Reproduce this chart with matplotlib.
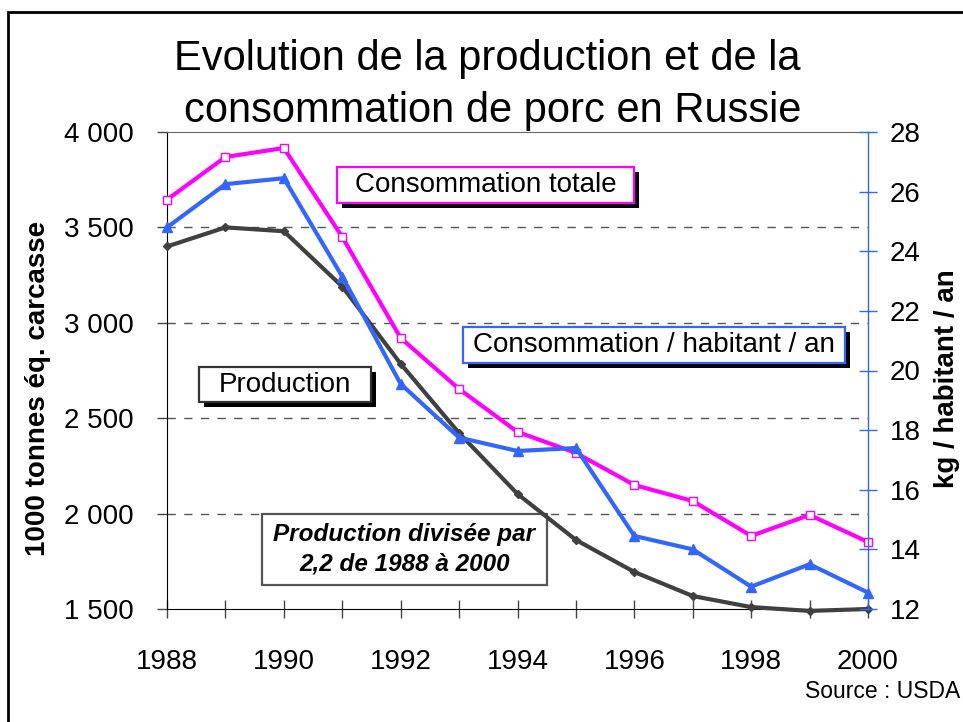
import matplotlib
matplotlib.use("Agg")
import matplotlib.pyplot as plt
from matplotlib.patches import Rectangle

plt.rcParams['font.family'] = ['Liberation Sans', 'DejaVu Sans']

# donnees
annees = list(range(1988, 2001))
production = [3400, 3500, 3480, 3190, 2785, 2422, 2103, 1862, 1694, 1568, 1510, 1490, 1500]
conso_totale = [3645, 3869, 3916, 3450, 2920, 2653, 2428, 2318, 2150, 2066, 1883, 1993, 1851]
conso_hab = [24.8, 26.25, 26.45, 23.15, 19.55, 17.75, 17.3, 17.4, 14.45, 14.0, 12.75, 13.5, 12.55]

W, H = 963, 722
GRIS = '#404040'
ROSE = '#FF00FF'
BLEU = '#3366FF'

fig = plt.figure(figsize=(W / 100, H / 100), dpi=100)
ax = fig.add_axes([167 / W, 1 - 609 / H, 701 / W, 477 / H])
ax2 = ax.twinx()


def fbox(x0, y0, x1, y1):
    # pixel coords (origin top left) -> figure fraction
    return (x0 / W, 1 - y1 / H), (x1 - x0) / W, (y1 - y0) / H


def etiquette(x0, y0, x1, y1, texte, bord, ombre=True, **kw):
    if ombre:
        xy, w, h = fbox(x0 + 5, y0 + 5, x1 + 5, y1 + 5)
        ax.add_patch(Rectangle(xy, w, h, transform=fig.transFigure, facecolor='black',
                               edgecolor='none', zorder=1, clip_on=False))
    xy, w, h = fbox(x0, y0, x1, y1)
    ax.add_patch(Rectangle(xy, w, h, transform=fig.transFigure, facecolor='white',
                           edgecolor=bord, lw=1.6, zorder=1.1, clip_on=False))
    fig.text((x0 + x1) / 2 / W, 1 - (y0 + y1) / 2 / H, texte, ha='center', va='center',
             fontsize=kw.pop('fontsize', 20), zorder=5, **kw)


# lignes
ax.plot(annees, production, color=GRIS, lw=3, marker='D', ms=4, mfc=GRIS, mec=GRIS,
        zorder=3, clip_on=False)
ax.plot(annees, conso_totale, color=ROSE, lw=3, marker='s', ms=6, mfc='white', mec=ROSE,
        mew=1, zorder=3, clip_on=False)
ax2.plot(annees, conso_hab, color=BLEU, lw=3, marker='^', ms=7, mfc=BLEU, mec=BLEU,
         zorder=3, clip_on=False)

ax.set_xlim(1988, 2000)
ax.set_ylim(1500, 4000)
ax2.set_ylim(12, 28)

# grille pointillee
for v in [2000, 2500, 3000, 3500]:
    ax.axhline(v, color='#555555', lw=1, ls=(0, (6, 6)), zorder=0.5)

ax.set_xticks(annees)
ax.set_xticklabels([str(a) if a % 2 == 0 else '' for a in annees])
ax.set_yticks([1500, 2000, 2500, 3000, 3500, 4000])
ax.set_yticklabels(['1 500', '2 000', '2 500', '3 000', '3 500', '4 000'])
ax2.set_yticks(range(12, 29, 2))

ax.tick_params(axis='x', direction='inout', length=13, width=1, color='#444444',
               labelsize=20, pad=22)
ax.tick_params(axis='y', direction='out', length=7, width=1, color='#444444',
               labelsize=20, pad=17)
ax2.tick_params(axis='y', direction='inout', length=13, width=1, color=BLEU,
                labelsize=20, pad=9)

ax.spines['right'].set_visible(False)
ax.spines['top'].set_color('#666666')
ax.spines['left'].set_color('black')
ax.spines['bottom'].set_color('black')
for s in ['top', 'left', 'bottom']:
    ax2.spines[s].set_visible(False)
ax2.spines['right'].set_color(BLEU)
ax2.spines['right'].set_linewidth(1)

ax.set_ylabel('1000 tonnes éq. carcasse', fontsize=20, fontweight='bold')
ax.yaxis.set_label_coords(-0.165, 0.463)
ax2.set_ylabel('kg / habitant / an', fontsize=20, fontweight='bold')
ax2.yaxis.set_label_coords(1.094, 0.484)

# titre
fig.text(487 / W, 1 - 70 / H, 'Evolution de la production et de la', ha='center',
         va='baseline', fontsize=30)
fig.text(493 / W, 1 - 122 / H, 'consommation de porc en Russie', ha='center',
         va='baseline', fontsize=30)

# etiquettes
etiquette(337, 167, 634, 203, 'Consommation totale', ROSE)
etiquette(463, 327, 845, 363, 'Consommation / habitant / an', BLEU)
etiquette(199, 367, 371, 402, 'Production', '#333333')
etiquette(262, 514, 547, 585, 'Production divisée par\n2,2 de 1988 à 2000', '#555555',
          ombre=False, fontsize=17.5, fontweight='bold', style='italic', linespacing=1.35)

fig.text(805 / W, 1 - 692 / H, 'Source : USDA', ha='left', va='center', fontsize=16.5)

# cadre exterieur
xy, w, h = fbox(8, 12, 1000, 760)
fig.patches.append(Rectangle(xy, w, h, transform=fig.transFigure, fill=False,
                             edgecolor='black', lw=2, clip_on=False))

fig.savefig('out.png', dpi=100)
